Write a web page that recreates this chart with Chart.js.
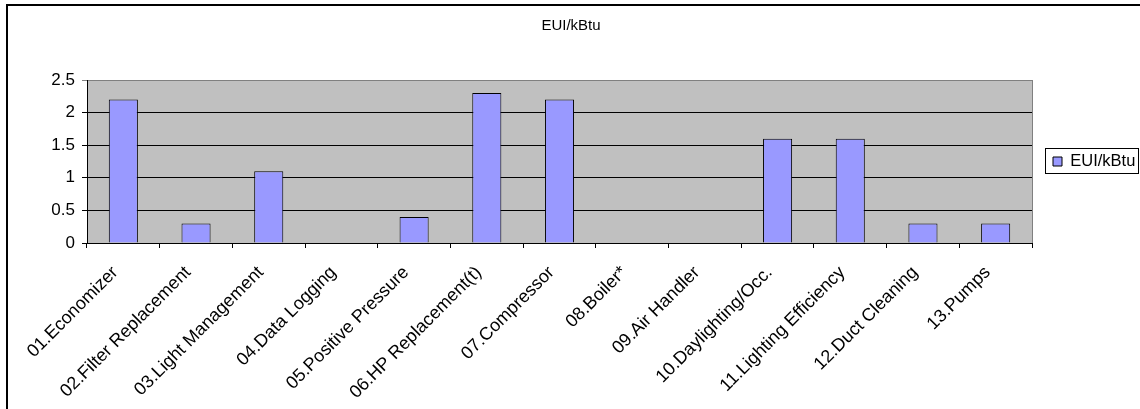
<!DOCTYPE html>
<html>
<head>
<meta charset="utf-8">
<script src="https://cdn.jsdelivr.net/npm/chart.js@4.4.0/dist/chart.umd.min.js"></script>
<style>
html, body { margin: 0; padding: 0; background: #fff; }
#wrap { width: 1140px; height: 409px; }
</style>
</head>
<body>
<div id="wrap"><canvas id="chart"></canvas></div>
<script>
var measures = [
    "01.Economizer",
    "02.Filter Replacement",
    "03.Light Management",
    "04.Data Logging",
    "05.Positive Pressure",
    "06.HP Replacement(t)",
    "07.Compressor",
    "08.Boiler*",
    "09.Air Handler",
    "10.Daylighting/Occ.",
    "11.Lighting Efficiency",
    "12.Duct Cleaning",
    "13.Pumps"
];
var euiValues = [2.2, 0.3, 1.1, 0, 0.4, 2.3, 2.2, 0, 0, 1.6, 1.6, 0.3, 0.3];
var seriesName = "EUI/kBtu";
var yMin = 0;
var yMax = 2.5;
var yStep = 0.5;

var font = "'Liberation Sans', Arial, sans-serif";

// gray plot area, frame round the whole chart, frame round the legend
var excelLook = {
    id: 'excelLook',
    beforeDraw: function (chart) {
        var c = chart.ctx, a = chart.chartArea;
        c.save();
        c.fillStyle = '#ffffff';
        c.fillRect(0, 0, chart.width, chart.height);
        c.fillStyle = '#c0c0c0';
        c.fillRect(a.left, a.top, a.right - a.left, a.bottom - a.top);
        c.strokeStyle = '#000';
        c.lineWidth = 2;
        c.strokeRect(7, 5, chart.width + 20, chart.height + 20);
        c.restore();
    },
    afterDatasetsDraw: function (chart) {
        var c = chart.ctx, a = chart.chartArea;
        c.save();
        c.strokeStyle = '#808080';
        c.lineWidth = 1;
        c.beginPath();
        c.moveTo(a.right + 0.5, a.top);
        c.lineTo(a.right + 0.5, a.bottom);
        c.stroke();
        c.restore();
    },
    afterDraw: function (chart) {
        var box = chart.legend.legendHitBoxes[0];
        if (!box) return;
        var c = chart.ctx;
        c.save();
        c.strokeStyle = '#000';
        c.lineWidth = 1;
        c.strokeRect(Math.round(box.left) - 7.5, Math.round(box.top) - 4.5, Math.round(box.width) + 11, Math.round(box.height) + 8);
        c.restore();
    }
};

var ctx = document.getElementById('chart');

chart = new Chart(ctx, {
    type: 'bar',
    data: {
        labels: measures,
        datasets: [{
            label: seriesName,
            data: euiValues,
            backgroundColor: '#9999ff',
            borderColor: '#000000',
            borderWidth: 1,
            barPercentage: 1,
            categoryPercentage: 0.4
        }]
    },
    options: {
        responsive: true,
        maintainAspectRatio: false,
        animation: false,
        events: [],
        layout: { padding: { left: 7, right: 5, top: 0, bottom: 0 } },
        scales: {
            x: {
                offset: true,
                grid: {
                    offset: true,
                    drawOnChartArea: false,
                    drawTicks: true,
                    tickLength: 5,
                    color: '#000'
                },
                border: { color: '#000', width: 1 },
                ticks: {
                    autoSkip: false,
                    minRotation: 45,
                    maxRotation: 45,
                    padding: 14,
                    labelOffset: -8,
                    color: '#000',
                    font: { family: font, size: 18 }
                },
                afterFit: function (scale) { scale.height = 166; }
            },
            y: {
                min: yMin,
                max: yMax,
                ticks: {
                    stepSize: yStep,
                    padding: 7,
                    color: '#000',
                    font: { family: font, size: 17 },
                    callback: function (v) { return String(v); }
                },
                grid: {
                    tickLength: 5,
                    color: function (c) { return c.tick && c.tick.value === yMax ? '#808080' : '#000'; }
                },
                border: { color: '#000', width: 1 },
                afterFit: function (scale) { scale.width = 80; }
            }
        },
        plugins: {
            title: {
                display: true,
                text: seriesName,
                color: '#000',
                font: { family: font, size: 15, weight: 'normal' },
                padding: { top: 17, bottom: 45 }
            },
            legend: {
                position: 'right',
                fullSize: false,
                maxWidth: 103,
                labels: {
                    boxWidth: 9,
                    boxHeight: 9,
                    padding: 21,
                    color: '#000',
                    font: { family: font, size: 16.5 }
                }
            },
            tooltip: { enabled: false }
        }
    },
    plugins: [excelLook]
});
</script>
</body>
</html>
